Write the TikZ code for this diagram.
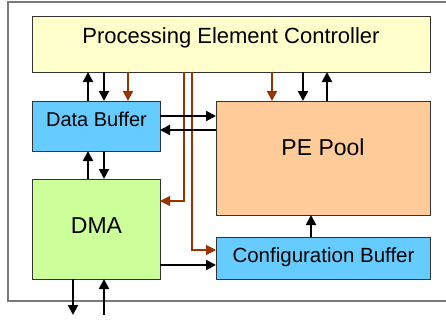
\documentclass[tikz,border=0pt]{standalone}
\usepackage{fontspec}
\setmainfont{Liberation Sans}
\usetikzlibrary{arrows.meta}

\definecolor{pecfill}{HTML}{FFFFCC}
\definecolor{buffill}{HTML}{66CCFF}
\definecolor{poolfill}{HTML}{FFCC99}
\definecolor{dmafill}{HTML}{CCFF99}
\definecolor{ctrlline}{HTML}{993300}
\definecolor{frameline}{HTML}{7A7A7A}

\tikzset{
  block/.style={draw=black!80, line width=0.9pt, inner sep=0pt, outer sep=0pt},
  caption/.style={anchor=base, inner sep=0pt},
  headtip/.style={-{Triangle[length=10pt,width=10pt]}},
  arr/.style={line width=2pt, headtip},
  ctrl/.style={line width=2pt, draw=ctrlline, headtip, ctrlline},
  ctrlrun/.style={line width=1.1pt, draw=ctrlline!70, headtip, ctrlline},
}

\begin{document}
\begin{tikzpicture}[x=1pt, y=-1pt]
  \useasboundingbox (0,0) rectangle (446,321);
  \fill[white] (0,0) rectangle (446,321);

  % outer frame
  \draw[frameline, line width=1.3pt] (452,2) -- (8,2) -- (8,301) -- (452,301);

  % blocks
  \node[block, fill=pecfill, minimum width=398pt, minimum height=56pt] (pec) at (231,44) {};
  \node[block, fill=buffill, minimum width=128pt, minimum height=50pt] (db) at (96,126) {};
  \node[block, fill=poolfill, minimum width=214pt, minimum height=114pt] (pe) at (323,158) {};
  \node[block, fill=dmafill, minimum width=128pt, minimum height=100pt] (dma) at (96,229) {};
  \node[block, fill=buffill, minimum width=214pt, minimum height=42pt] (cb) at (323,258) {};

  % block captions
  \node[caption, font=\fontsize{22}{26}\selectfont] (pect) at (231,44) {Processing Element Controller};
  \node[caption, font=\fontsize{20}{24}\selectfont] (dbt) at (96.5,126) {Data Buffer};
  \node[caption, font=\fontsize{23}{27}\selectfont] (pet) at (323,155.5) {PE Pool};
  \node[caption, font=\fontsize{23}{27}\selectfont] (dmat) at (96.5,233) {DMA};
  \node[caption, font=\fontsize{20.5}{24}\selectfont] (cbt) at (323.5,262) {Configuration Buffer};

  % connector columns and rows
  \coordinate (c73) at (73,0);
  \coordinate (c88) at (88,0);
  \coordinate (c104) at (104,0);
  \coordinate (c128) at (128,0);
  \coordinate (c184) at (184,0);
  \coordinate (c192) at (192,0);
  \coordinate (c272) at (272,0);
  \coordinate (c303) at (303,0);
  \coordinate (c311) at (311,0);
  \coordinate (c327) at (327,0);
  \coordinate (r116) at (0,116);
  \coordinate (r130) at (0,130);
  \coordinate (r201) at (0,201);
  \coordinate (r250) at (0,250);
  \coordinate (r265) at (0,265);
  \coordinate (inA) at (73,315);
  \coordinate (inB) at (104,315);

  % controller <-> data buffer
  \draw[arr] (c88 |- db.north) -- (c88 |- pec.south);
  \draw[arr] (c104 |- pec.south) -- (c104 |- db.north);
  \draw[ctrl] (c128 |- pec.south) -- (c128 |- db.north);

  % controller -> DMA and configuration buffer
  \draw[ctrlrun] (c184 |- pec.south) -- (c184 |- r201) -- (dma.east |- r201);
  \draw[ctrlrun] (c192 |- pec.south) -- (c192 |- r250) -- (cb.west |- r250);

  % controller <-> PE pool
  \draw[ctrl] (c272 |- pec.south) -- (c272 |- pe.north);
  \draw[arr] (c303 |- pec.south) -- (c303 |- pe.north);
  \draw[arr] (c327 |- pe.north) -- (c327 |- pec.south);

  % data buffer <-> PE pool
  \draw[arr] (db.east |- r116) -- (pe.west |- r116);
  \draw[arr] (pe.west |- r130) -- (db.east |- r130);

  % DMA <-> data buffer
  \draw[arr] (c88 |- dma.north) -- (c88 |- db.south);
  \draw[arr] (c104 |- db.south) -- (c104 |- dma.north);

  % DMA -> configuration buffer -> PE pool
  \draw[arr] (dma.east |- r265) -- (cb.west |- r265);
  \draw[arr] (c311 |- cb.north) -- (c311 |- pe.south);

  % external DMA ports
  \draw[arr] (c73 |- dma.south) -- (inA);
  \draw[arr] (inB) -- (c104 |- dma.south);
\end{tikzpicture}
\end{document}
